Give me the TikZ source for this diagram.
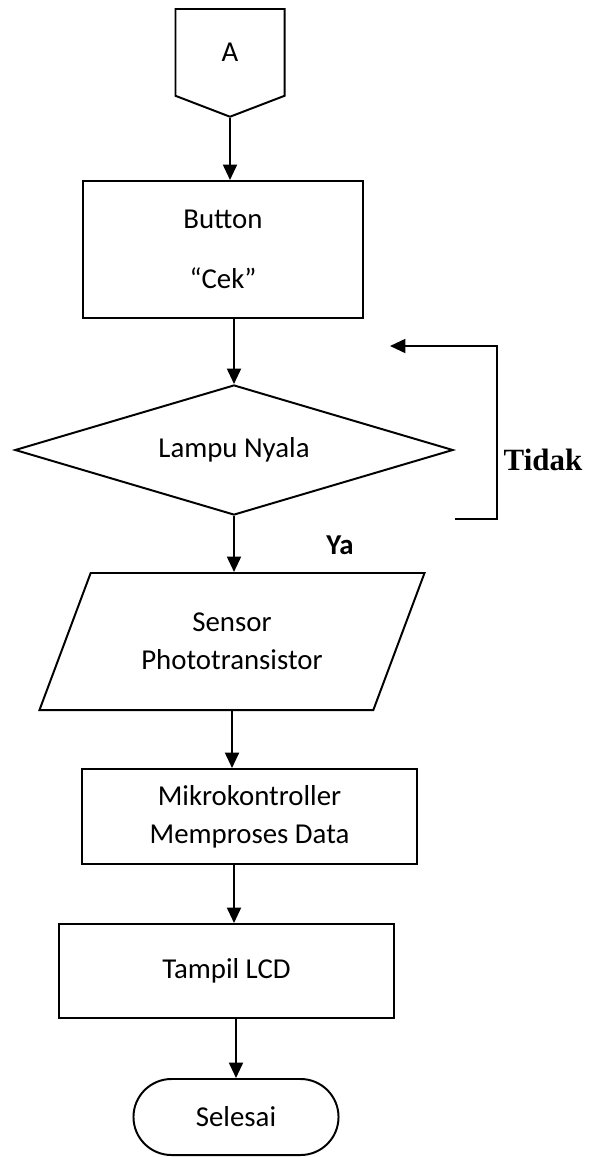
\documentclass[tikz,border=0pt]{standalone}
\usepackage{fontspec}
\setmainfont{Carlito}
\newfontfamily\tidakfont{Liberation Serif}
\usepackage{tikz}
\usetikzlibrary{shapes,arrows,arrows.meta}
\usetikzlibrary{positioning}
\tikzstyle{arrow} = [line width=1.4pt,-{Triangle[length=11pt,width=10pt]}]
\tikzstyle{base} = [draw=black, line width=1.4pt, text centered, align=center,
    inner sep=0pt, font=\fontsize{20.5}{27}\selectfont]
\tikzstyle{proc} = [base, rectangle, minimum width=8.375cm, minimum height=2.375cm]
\tikzstyle{offpage} = [base, signal, signal to=south, signal from=nowhere,
    signal pointer angle=138, minimum width=2.725cm, minimum height=2.25cm]
\tikzstyle{decision} = [base, diamond, aspect=3.37, minimum width=10.95cm, minimum height=3.25cm]
\tikzstyle{io} = [base, trapezium, trapezium left angle=60, trapezium right angle=120,
    trapezium stretches=true, minimum width=9.625cm, minimum height=3.425cm]
\tikzstyle{term} = [base, rounded rectangle, minimum width=5.125cm, minimum height=1.9cm]

\begin{document}
\begin{tikzpicture}[x=0.025cm, y=-0.025cm]
\useasboundingbox (0,0) rectangle (588,1157);

\node (conA) [offpage, anchor=north] at (230,8) {A};
\node (btn) [proc, minimum width=7cm, minimum height=3.425cm] at (223,249.5) {
    Button \\[15.5pt]
    ``Cek''
};
\node (dec) [decision] at (234,450) {Lampu Nyala};
\node (sens) [io] at (232,641.5) {
    Sensor \\
    Phototransistor
};
\node (mcu) [proc] at (249.5,816.5) {
    Mikrokontroller \\
    Memproses Data
};
\node (lcd) [proc, minimum height=2.35cm] at (226.5,971) {Tampil LCD};
\node (fin) [term] at (236,1117) {Selesai};

\node (ya) [font=\fontsize{20.5}{27}\selectfont\bfseries] at (340,545) {Ya};
\node (tidak) [font=\fontsize{22}{26}\selectfont\tidakfont\bfseries] at (543,460) {Tidak};

\coordinate (loopbot) at (455,519);
\coordinate (loopright) at (497,430);
\coordinate (looptop) at (390,346);

\draw [arrow] (conA.south) -- (conA.south |- btn.north);
\draw [arrow] (dec.north |- btn.south) -- (dec.north);
\draw [arrow] (dec.south) -- (dec.south |- sens.north);
\draw [arrow] (sens.south) -- (sens.south |- mcu.north);
\draw [arrow] (dec.south |- mcu.south) -- (dec.south |- lcd.north);
\draw [arrow] (fin.north |- lcd.south) -- (fin.north);
\draw [arrow] (loopbot) -| (loopright) |- (looptop);
\end{tikzpicture}
\end{document}
